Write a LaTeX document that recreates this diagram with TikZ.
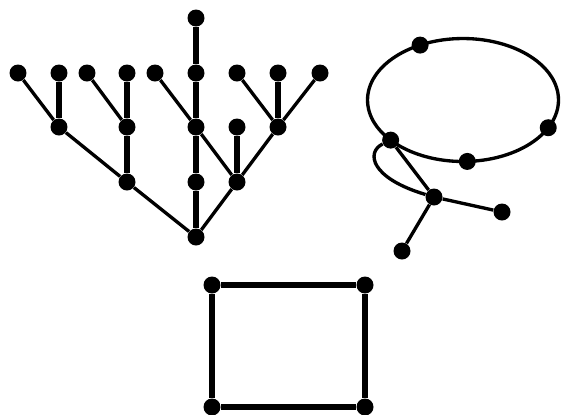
\documentclass[tikz,border=0pt]{standalone}
\usetikzlibrary{shapes.geometric}
\tikzset{
  vertex/.style={circle,fill=black,inner sep=0pt,minimum size=0.34cm},
  heavy/.style={line width=3.1pt},
  light/.style={line width=1.9pt},
  ring/.style={ellipse,draw,line width=1.9pt,inner sep=0pt,outer sep=0pt,
    minimum width=3.82cm,minimum height=2.46cm}
}
\begin{document}
\begin{tikzpicture}[x=0.02cm,y=-0.02cm]
  \useasboundingbox (0,0) rectangle (561,414);
  % tree
  \node[vertex] (top) at (196,18) {};
  \foreach \n/\x in {l1/18,l2/59,l3/87,l4/127,l5/155,l6/196,l7/237,l8/278,l9/320}
    \node[vertex] (\n) at (\x,73) {};
  \foreach \n/\x in {m1/59,m2/127,m3/196,m4/237,m5/278}
    \node[vertex] (\n) at (\x,127) {};
  \foreach \n/\x in {b1/127,b2/196,b3/237}
    \node[vertex] (\n) at (\x,182) {};
  \node[vertex] (root) at (196,237) {};
  \foreach \a/\b in {top/l6,l6/m3,l2/m1,l4/m2,l8/m5,m2/b1,m3/b2,m4/b3,b2/root}
    \draw[heavy] (\a) -- (\b);
  \foreach \a/\b in {l1/m1,l3/m2,l5/m3,l7/m5,l9/m5,m1/b1,m3/b3,m5/b3,b1/root,b3/root}
    \draw[light] (\a) -- (\b);

  % cycle with a tail
  \node[ring] (cyc) at (463,100) {};
  \node[vertex] (c1) at (cyc.128) {};
  \node[vertex] (c2) at (cyc.-18) {};
  \node[vertex] (c3) at (cyc.-86) {};
  \node[vertex] (c4) at (cyc.209) {};
  \node[vertex] (hub) at (434,197) {};
  \node[vertex] (t1) at (502,212) {};
  \node[vertex] (t2) at (402,251) {};
  \draw[light] (c4) -- (hub) (hub) -- (t1) (hub) -- (t2);
  \draw[light] (c4) .. controls (366,152) and (370,178) .. (hub);

  % square
  \node[vertex] (r1) at (212,285) {};
  \node[vertex] (r2) at (365,285) {};
  \node[vertex] (r3) at (365,407) {};
  \node[vertex] (r4) at (212,407) {};
  \draw[heavy] (r1) -- (r2) -- (r3) -- (r4) -- (r1);
\end{tikzpicture}
\end{document}
